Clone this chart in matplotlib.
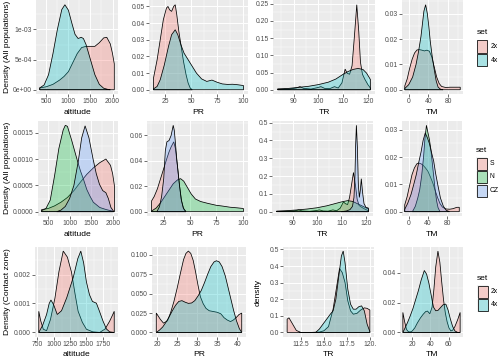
import numpy as np
import matplotlib.pyplot as plt
from matplotlib.colors import to_rgba
from matplotlib.patches import Rectangle

plt.rcParams['font.family'] = ['Liberation Sans', 'DejaVu Sans']

# ggplot hue colours
col_2x, col_4x = '#F8766D', '#00BFC4'
col_S, col_N, col_CZ = '#F8766D', '#00BA38', '#619CFF'

# ---------- row 1: all populations, by ploidy ----------
alt_all_2x_x = [350, 500, 650, 800, 900, 1000, 1100, 1200, 1300, 1400, 1500, 1600, 1700, 1800, 1870, 1950, 2000, 2040]
alt_all_2x_y = np.array([0.03, 0.05, 0.09, 0.16, 0.22, 0.30, 0.45, 0.60, 0.70, 0.72, 0.72, 0.72, 0.78, 0.86, 0.87, 0.76, 0.60, 0.43]) * 1e-3
alt_all_4x_x = [350, 450, 550, 650, 750, 850, 920, 1000, 1080, 1150, 1220, 1290, 1340, 1400, 1500, 1600, 1700, 1800, 1900, 1950]
alt_all_4x_y = np.array([0.03, 0.08, 0.25, 0.60, 1.00, 1.33, 1.41, 1.32, 1.10, 0.92, 0.85, 0.87, 0.85, 0.75, 0.50, 0.25, 0.09, 0.025, 0.005, 0.0]) * 1e-3

pr_all_2x_x = [13.5, 17, 20, 23, 26, 27.5, 29, 31, 33, 34.5, 36, 38, 40, 42.5, 45, 47, 49, 51]
pr_all_2x_y = [0.007, 0.018, 0.030, 0.042, 0.049, 0.050, 0.048, 0.047, 0.050, 0.051, 0.045, 0.035, 0.027, 0.017, 0.009, 0.004, 0.001, 0.0]
pr_all_4x_x = [13.5, 17, 20, 24, 28, 31, 34.5, 37, 40, 43, 47, 50, 55, 60, 65, 70, 75, 80, 85, 90, 95, 100.5]
pr_all_4x_y = [0.0005, 0.002, 0.006, 0.015, 0.026, 0.033, 0.036, 0.033, 0.027, 0.022, 0.018, 0.015, 0.010, 0.0065, 0.005, 0.0058, 0.0045, 0.0035, 0.0032, 0.0033, 0.003, 0.0025]

tr_all_2x_x = [83.5, 88, 91, 92.5, 94, 97, 99.5, 101, 102.5, 104.5, 106.5, 108, 109.5, 110.8, 111.6, 112.6, 113.6, 114.6, 115.5, 116.3, 117.0, 117.8, 118.8, 120, 121]
tr_all_2x_y = [0.002, 0.002, 0.005, 0.009, 0.004, 0.002, 0.006, 0.009, 0.004, 0.003, 0.009, 0.005, 0.020, 0.060, 0.048, 0.045, 0.070, 0.160, 0.247, 0.170, 0.080, 0.045, 0.030, 0.015, 0.005]
tr_all_4x_x = [83.5, 88, 92, 96, 100, 104, 107, 110, 112, 114, 116, 118, 119.5, 121]
tr_all_4x_y = [0.002, 0.004, 0.007, 0.010, 0.015, 0.022, 0.031, 0.045, 0.053, 0.059, 0.062, 0.059, 0.048, 0.030]

tm_all_2x_x = [-8, -3, 2, 7, 12, 17, 22, 27, 32, 37, 42, 47, 52, 57, 62, 67, 75, 85, 95, 105]
tm_all_2x_y = [0.0015, 0.0043, 0.0085, 0.012, 0.0145, 0.0157, 0.0158, 0.0156, 0.0153, 0.0156, 0.0152, 0.013, 0.009, 0.005, 0.0025, 0.0013, 0.0009, 0.001, 0.001, 0.001]
tm_all_4x_x = [-8, 0, 8, 15, 20, 25, 28, 31, 34.5, 38, 41, 44, 48, 52, 56, 60, 65, 70]
tm_all_4x_y = [0.0005, 0.002, 0.005, 0.010, 0.015, 0.021, 0.026, 0.031, 0.0335, 0.030, 0.025, 0.019, 0.013, 0.008, 0.0035, 0.001, 0.0002, 0.0]

# ---------- row 2: all populations, by region ----------
alt_all_S_x = [350, 500, 650, 800, 950, 1100, 1250, 1400, 1550, 1700, 1843, 1950, 2000, 2040]
alt_all_S_y = np.array([0.04, 0.06, 0.11, 0.18, 0.27, 0.40, 0.56, 0.71, 0.83, 0.93, 1.00, 0.88, 0.72, 0.50]) * 1e-3
alt_all_N_x = [350, 450, 550, 650, 750, 850, 900, 950, 1050, 1170, 1250, 1320, 1400, 1470, 1550, 1700, 1850, 2000]
alt_all_N_y = np.array([0.02, 0.06, 0.22, 0.68, 1.20, 1.55, 1.64, 1.62, 1.35, 1.00, 0.78, 0.62, 0.42, 0.30, 0.18, 0.08, 0.04, 0.01]) * 1e-3
alt_all_CZ_x = [700, 800, 900, 1000, 1100, 1200, 1280, 1360, 1450, 1545, 1620, 1694, 1770, 1843, 1900, 1960, 2030]
alt_all_CZ_y = np.array([0.0, 0.03, 0.10, 0.25, 0.50, 0.95, 1.40, 1.63, 1.40, 1.00, 0.72, 0.52, 0.40, 0.36, 0.25, 0.08, 0.0]) * 1e-3

pr_all_S_x = [13.5, 16, 19, 22, 25, 28, 30, 32, 34.5, 36, 38, 40, 42, 44, 46]
pr_all_S_y = [0.0085, 0.012, 0.018, 0.026, 0.034, 0.042, 0.047, 0.051, 0.055, 0.050, 0.036, 0.020, 0.008, 0.002, 0.0]
pr_all_N_x = [13.5, 18, 22, 26, 30, 34, 38, 41, 44, 47.5, 51, 55, 60, 67, 75, 80, 88, 95, 100.5]
pr_all_N_y = [0.0005, 0.003, 0.007, 0.012, 0.017, 0.022, 0.025, 0.026, 0.024, 0.019, 0.014, 0.010, 0.008, 0.0065, 0.005, 0.0045, 0.0035, 0.003, 0.0025]
pr_all_CZ_x = [18.5, 21, 23, 25, 26.5, 28, 30, 32, 33, 34, 35, 36, 37.5, 39.5, 41.5, 43.5, 46]
pr_all_CZ_y = [0.0, 0.004, 0.012, 0.026, 0.048, 0.055, 0.056, 0.060, 0.064, 0.068, 0.064, 0.055, 0.040, 0.024, 0.010, 0.003, 0.0]

tr_all_S_x = [83.5, 88, 91, 92.5, 94, 97, 99.5, 101, 102.5, 104.5, 106.5, 108, 109.5, 110.8, 111.6, 112.5, 113.3, 114.1, 114.9, 115.7, 116.4, 117.2, 118.2, 119.5, 121]
tr_all_S_y = [0.002, 0.002, 0.005, 0.010, 0.004, 0.002, 0.006, 0.010, 0.004, 0.003, 0.010, 0.005, 0.020, 0.055, 0.045, 0.040, 0.080, 0.150, 0.220, 0.150, 0.070, 0.035, 0.025, 0.015, 0.005]
tr_all_N_x = [83.5, 88, 92, 96, 100, 104, 107, 110, 112.5, 114.5, 116.5, 118.5, 121]
tr_all_N_y = [0.003, 0.006, 0.010, 0.015, 0.022, 0.033, 0.044, 0.055, 0.062, 0.058, 0.045, 0.032, 0.015]
tr_all_CZ_x = [110, 112, 113.5, 114.5, 115.1, 115.5, 115.8, 116.1, 116.5, 116.9, 117.3, 117.7, 118.1, 118.6, 119.2, 120, 121]
tr_all_CZ_y = [0.0, 0.004, 0.012, 0.030, 0.080, 0.200, 0.380, 0.485, 0.360, 0.150, 0.080, 0.120, 0.185, 0.110, 0.045, 0.025, 0.020]

tm_all_S_x = [-8, -3, 2, 7, 12, 17, 21, 26, 30, 35, 40, 45, 50, 55, 60, 65, 70, 77, 85, 92, 100, 105]
tm_all_S_y = [0.0025, 0.0055, 0.0095, 0.0135, 0.016, 0.0175, 0.0178, 0.0175, 0.017, 0.016, 0.0148, 0.0128, 0.0106, 0.0078, 0.0052, 0.003, 0.0017, 0.001, 0.0009, 0.0011, 0.0016, 0.0016]
tm_all_N_x = [8, 14, 19, 23, 27, 31, 34, 37, 40, 43, 46, 49, 52, 55, 58, 61, 65]
tm_all_N_y = [0.0, 0.002, 0.005, 0.008, 0.013, 0.020, 0.027, 0.0316, 0.029, 0.0265, 0.023, 0.018, 0.013, 0.008, 0.004, 0.0015, 0.0]
tm_all_CZ_x = [-8, -2, 5, 10, 16, 21, 26, 30, 34.5, 39, 43, 47, 52, 56, 61, 66, 72, 78, 85]
tm_all_CZ_y = [0.0009, 0.003, 0.0063, 0.0095, 0.0136, 0.018, 0.022, 0.026, 0.0288, 0.027, 0.025, 0.022, 0.0185, 0.014, 0.0094, 0.005, 0.002, 0.0005, 0.0]

# ---------- row 3: contact zone, by ploidy ----------
alt_cz_2x_x = [770, 800, 840, 890, 950, 1018, 1080, 1146, 1210, 1273, 1330, 1375, 1440, 1503, 1600, 1707, 1790, 1860, 1900, 1930]
alt_cz_2x_y = np.array([0.73, 0.40, 0.11, 0.06, 0.45, 1.18, 2.10, 2.81, 2.60, 2.08, 1.30, 0.73, 0.35, 0.11, 0.02, 0.0, 0.12, 0.39, 0.58, 0.73]) * 1e-3
alt_cz_4x_x = [770, 830, 890, 930, 957, 1000, 1054, 1120, 1200, 1300, 1370, 1416, 1460, 1503, 1550, 1595, 1656, 1700, 1758, 1810, 1860, 1930]
alt_cz_4x_y = np.array([0.0, 0.25, 0.62, 1.00, 1.12, 0.95, 0.62, 0.75, 1.20, 1.90, 2.55, 2.81, 2.40, 1.74, 1.30, 1.07, 1.01, 0.75, 0.39, 0.12, 0.02, 0.0]) * 1e-3

pr_cz_2x_x = [19.8, 20.8, 21.6, 22.6, 23.4, 24.2, 25.0, 25.8, 26.6, 27.2, 27.8, 28.4, 29.0, 29.6, 30.2, 30.8, 31.5, 32.2, 33.0, 34.0, 35.0, 35.9, 36.7, 37.5, 38.3, 39.0, 39.7, 40.4, 41.1]
pr_cz_2x_y = [0.025, 0.017, 0.012, 0.015, 0.026, 0.040, 0.057, 0.076, 0.094, 0.102, 0.105, 0.102, 0.093, 0.078, 0.061, 0.046, 0.037, 0.031, 0.028, 0.027, 0.026, 0.024, 0.019, 0.016, 0.014, 0.016, 0.019, 0.023, 0.025]
pr_cz_4x_x = [19.8, 20.6, 21.4, 22.2, 23.0, 23.8, 24.6, 25.4, 26.2, 27.0, 27.8, 28.6, 29.4, 30.2, 31.0, 31.8, 32.6, 33.4, 34.2, 34.8, 35.5, 36.2, 37.0, 37.7, 38.4, 39.1, 39.8, 40.5, 41.1]
pr_cz_4x_y = [0.0, 0.003, 0.007, 0.013, 0.020, 0.028, 0.035, 0.040, 0.041, 0.039, 0.0375, 0.038, 0.041, 0.047, 0.054, 0.064, 0.075, 0.085, 0.091, 0.0925, 0.091, 0.085, 0.073, 0.058, 0.043, 0.028, 0.015, 0.005, 0.0]

tr_cz_2x_x = [111.0, 111.2, 111.6, 112.0, 112.5, 113.5, 114.5, 115.0, 115.5, 116.0, 116.4, 116.7, 117.0, 117.3, 117.6, 117.9, 118.2, 118.6, 119.0, 119.4, 119.7, 120.0]
tr_cz_2x_y = [0.080, 0.088, 0.050, 0.012, 0.0, 0.0, 0.002, 0.010, 0.035, 0.140, 0.280, 0.385, 0.360, 0.300, 0.190, 0.130, 0.110, 0.115, 0.135, 0.148, 0.145, 0.135]
tr_cz_4x_x = [114.1, 114.5, 114.9, 115.3, 115.7, 116.0, 116.3, 116.6, 116.9, 117.1, 117.3, 117.6, 117.9, 118.2, 118.5, 118.8, 119.1, 119.4, 119.7, 120.0]
tr_cz_4x_y = [0.0, 0.020, 0.050, 0.080, 0.110, 0.130, 0.200, 0.330, 0.460, 0.490, 0.420, 0.260, 0.170, 0.140, 0.140, 0.155, 0.160, 0.130, 0.050, 0.005]

tm_cz_2x_x = [10, 12, 14, 16, 18, 20, 23, 26, 29, 32, 35, 37, 39.5, 42, 44, 46, 48.4, 50.5, 52.5, 54.5, 56.5, 58.5, 60.5, 62.5, 64.5, 67, 70, 72.7]
tm_cz_2x_y = [0.0134, 0.007, 0.002, 0.0005, 0.0003, 0.0008, 0.003, 0.0065, 0.0095, 0.012, 0.014, 0.0143, 0.0125, 0.017, 0.029, 0.044, 0.0545, 0.047, 0.034, 0.022, 0.013, 0.007, 0.003, 0.001, 0.0015, 0.004, 0.0085, 0.0134]
tm_cz_4x_x = [10, 12, 15, 18, 21, 24, 27, 30, 33.5, 36, 38.5, 41, 43.5, 46, 48.5, 51, 54, 57, 59.5, 62, 64.5, 67, 70, 72.7]
tm_cz_4x_y = [0.0, 0.0025, 0.0065, 0.011, 0.016, 0.022, 0.028, 0.035, 0.0415, 0.039, 0.033, 0.025, 0.017, 0.0145, 0.0148, 0.0165, 0.0185, 0.019, 0.015, 0.009, 0.004, 0.001, 0.0, 0.0]

W, H = 500, 361
fig = plt.figure(figsize=(W / 100, H / 100), dpi=100)


def minors(ticks, lo, hi):
    step = ticks[1] - ticks[0]
    m = np.arange(ticks[0] - step / 2, ticks[-1] + step, step)
    return m[(m > lo) & (m < hi)]


def panel(box, curves, xticks, yticks, ylabels, xtitle, title_y, xlabels=None):
    l, t, r, b = box
    ax = fig.add_axes([l / W, 1 - b / H, (r - l) / W, (b - t) / H])
    ax.set_facecolor('#EBEBEB')
    for x, y, c in curves:
        px = np.r_[x[0], x, x[-1]]
        py = np.r_[0, y, 0]
        ax.fill(px, py, fc=to_rgba(c, 0.3), ec='black', lw=0.55, zorder=2)
    lo = min(min(x) for x, _, _ in curves)
    hi = max(max(x) for x, _, _ in curves)
    top = max(max(y) for _, y, _ in curves)
    xl = (lo - 0.05 * (hi - lo), hi + 0.05 * (hi - lo))
    yl = (-0.05 * top, 1.05 * top)
    ax.set_xlim(xl)
    ax.set_ylim(yl)
    ax.set_xticks(xticks)
    ax.set_xticklabels(xlabels if xlabels else [str(v) for v in xticks])
    ax.set_yticks(yticks)
    ax.set_yticklabels(ylabels)
    ax.set_xticks(minors(xticks, *xl), minor=True)
    ax.set_yticks(minors(yticks, *yl), minor=True)
    for s in ax.spines.values():
        s.set_visible(False)
    ax.tick_params(length=2, width=0.5, color='#333333', labelsize=4.9,
                   labelcolor='#4D4D4D', pad=1.0)
    ax.tick_params(which='minor', length=0)
    ax.grid(which='major', color='white', lw=0.7)
    ax.grid(which='minor', color='white', lw=0.35)
    ax.set_axisbelow(True)
    fig.text((l + r) / 2 / W, 1 - title_y / H, xtitle, ha='center', va='center', fontsize=6.1)
    return ax


def legend(x, y, labels, colors):
    fig.text(x / W, 1 - y / H, 'set', fontsize=6.1, va='center', ha='left')
    for i, (lab, c) in enumerate(zip(labels, colors)):
        ky = y + 7 + i * 13.5
        fig.add_artist(Rectangle((x / W, 1 - (ky + 13) / H), 11 / W, 13 / H,
                                 transform=fig.transFigure, fc='#F2F2F2', ec='none'))
        fig.add_artist(Rectangle(((x + 0.5) / W, 1 - (ky + 12.5) / H), 10 / W, 12 / H,
                                 transform=fig.transFigure, fc=to_rgba(c, 0.3), ec='black', lw=0.55))
        fig.text((x + 14) / W, 1 - (ky + 6.5) / H, lab, fontsize=4.9, va='center', ha='left')


def ytitle(text, x, yc):
    fig.text(x / W, 1 - yc / H, text, rotation=90, ha='center', va='center', fontsize=6.1)


# row 1
panel((36, 0.5, 118, 94), [(alt_all_2x_x, alt_all_2x_y, col_2x), (alt_all_4x_x, alt_all_4x_y, col_4x)],
      [500, 1000, 1500, 2000], [0, 5e-4, 1e-3], ['0e+00', '5e-04', '1e-03'], 'altitude', 113)
panel((149, 0.5, 248, 94), [(pr_all_2x_x, pr_all_2x_y, col_2x), (pr_all_4x_x, pr_all_4x_y, col_4x)],
      [25, 50, 75, 100], [0, .01, .02, .03, .04, .05], ['0.00', '0.01', '0.02', '0.03', '0.04', '0.05'], 'PR', 113)
panel((273, 0.5, 375, 94), [(tr_all_2x_x, tr_all_2x_y, col_2x), (tr_all_4x_x, tr_all_4x_y, col_4x)],
      [90, 100, 110, 120], [0, .05, .1, .15, .2, .25], ['0.00', '0.05', '0.10', '0.15', '0.20', '0.25'], 'TR', 113)
panel((402, 0.5, 463, 94), [(tm_all_2x_x, tm_all_2x_y, col_2x), (tm_all_4x_x, tm_all_4x_y, col_4x)],
      [0, 40, 80], [0, .01, .02, .03], ['0.00', '0.01', '0.02', '0.03'], 'TM', 113)
ytitle('Density (All populations)', 7.5, 47)
legend(476.5, 33, ['2x', '4x'], [col_2x, col_4x])

# row 2
panel((38, 121, 118, 216), [(alt_all_S_x, alt_all_S_y, col_S), (alt_all_N_x, alt_all_N_y, col_N),
                            (alt_all_CZ_x, alt_all_CZ_y, col_CZ)],
      [500, 1000, 1500, 2000], [0, 5e-4, 1e-3, 1.5e-3], ['0.0000', '0.0005', '0.0010', '0.0015'], 'altitude', 235)
panel((147, 121, 248, 216), [(pr_all_S_x, pr_all_S_y, col_S), (pr_all_N_x, pr_all_N_y, col_N),
                             (pr_all_CZ_x, pr_all_CZ_y, col_CZ)],
      [25, 50, 75, 100], [0, .02, .04, .06], ['0.00', '0.02', '0.04', '0.06'], 'PR', 235)
panel((272, 121, 373, 216), [(tr_all_S_x, tr_all_S_y, col_S), (tr_all_N_x, tr_all_N_y, col_N),
                             (tr_all_CZ_x, tr_all_CZ_y, col_CZ)],
      [90, 100, 110, 120], [0, .1, .2, .3, .4, .5], ['0.0', '0.1', '0.2', '0.3', '0.4', '0.5'], 'TR', 235)
panel((402, 121, 462, 216), [(tm_all_S_x, tm_all_S_y, col_S), (tm_all_N_x, tm_all_N_y, col_N),
                             (tm_all_CZ_x, tm_all_CZ_y, col_CZ)],
      [0, 40, 80], [0, .01, .02, .03], ['0.00', '0.01', '0.02', '0.03'], 'TM', 235)
ytitle('Density (All populations)', 7.5, 168)
legend(476, 150, ['S', 'N', 'CZ'], [col_S, col_N, col_CZ])

# row 3
panel((35, 247, 118, 336.5), [(alt_cz_2x_x, alt_cz_2x_y, col_2x), (alt_cz_4x_x, alt_cz_4x_y, col_4x)],
      [750, 1000, 1250, 1500, 1750], [0, 1e-3, 2e-3], ['0.000', '0.001', '0.002'], 'altitude', 355)
panel((152, 247, 246, 336.5), [(pr_cz_2x_x, pr_cz_2x_y, col_2x), (pr_cz_4x_x, pr_cz_4x_y, col_4x)],
      [20, 25, 30, 35, 40], [0, .025, .05, .075, .1], ['0.000', '0.025', '0.050', '0.075', '0.100'], 'PR', 355)
panel((283, 247, 374, 336.5), [(tr_cz_2x_x, tr_cz_2x_y, col_2x), (tr_cz_4x_x, tr_cz_4x_y, col_4x)],
      [112.5, 115, 117.5, 120], [0, .1, .2, .3, .4, .5], ['0.0', '0.1', '0.2', '0.3', '0.4', '0.5'], 'TR', 355,
      xlabels=['112.5', '115.0', '117.5', '120.'])
panel((400, 247, 463, 336.5), [(tm_cz_2x_x, tm_cz_2x_y, col_2x), (tm_cz_4x_x, tm_cz_4x_y, col_4x)],
      [20, 40, 60], [0, .02, .04], ['0.00', '0.02', '0.04'], 'TM', 355)
ytitle('Density (Contact zone)', 7.5, 292)
ytitle('density', 258, 292)
legend(477, 278, ['2x', '4x'], [col_2x, col_4x])

fig.savefig('out.png', dpi=100)
